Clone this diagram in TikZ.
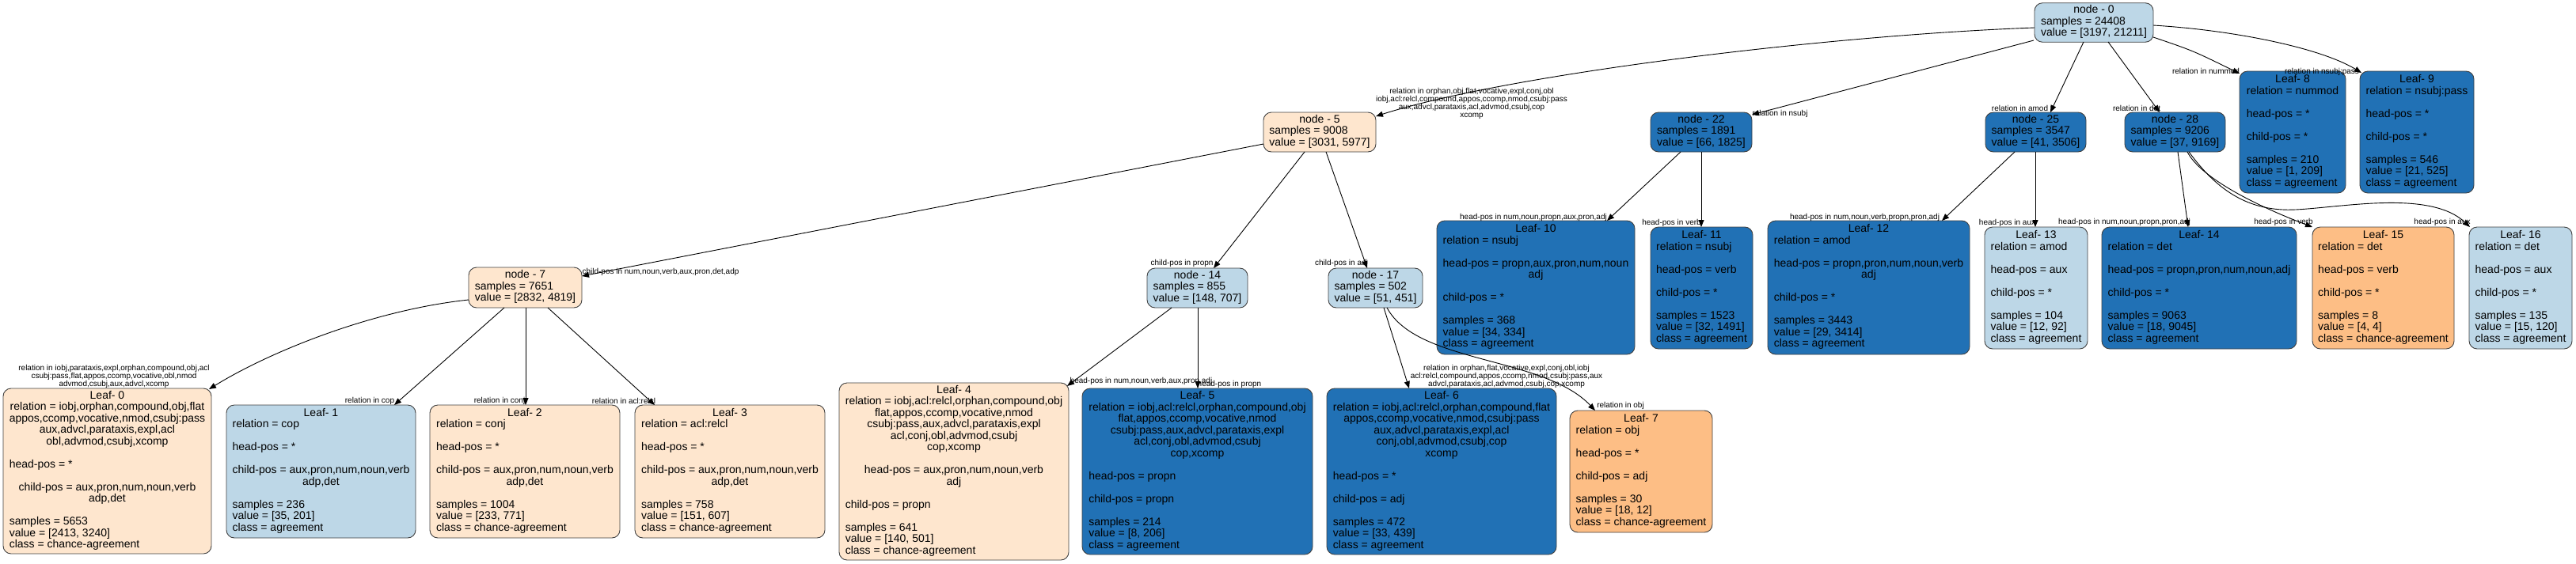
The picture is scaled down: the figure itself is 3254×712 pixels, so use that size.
\documentclass[tikz,border=0pt]{standalone}
\usepackage{fontspec}
\setmainfont{Liberation Sans}
\usetikzlibrary{arrows.meta,calc}
\definecolor{dblue}{HTML}{2171B5}
\definecolor{lblue}{HTML}{BDD7E7}
\definecolor{lorange}{HTML}{FEE6CE}
\definecolor{morange}{HTML}{FDBE85}
\newcommand\cln[1]{\multicolumn{1}{@{}c@{}}{#1}}
\newcommand\ntab[1]{\begin{tabular}{@{}l@{}}#1\end{tabular}}
\tikzset{
  tnode/.style={draw=black!75, line width=0.9pt, rounded corners=10pt, inner xsep=6pt, inner ysep=3pt,
    font=\fontsize{14}{14.5}\selectfont, align=left},
  dk/.style={tnode, fill=dblue},
  lb/.style={tnode, fill=lblue},
  lo/.style={tnode, fill=lorange},
  mo/.style={tnode, fill=morange},
  edge/.style={draw=black, line width=0.9pt, -{Triangle[length=9pt,width=7pt]}},
  elab/.style={font=\fontsize{10}{10}\selectfont, inner sep=0pt, align=center}
}
\begin{document}
\begin{tikzpicture}[x=1pt,y=-1pt]
\fill[white] (0,0) rectangle (3254,712);
\useasboundingbox (0,0) rectangle (3254,712);

% rank 1
\node[lb,minimum width=150pt,minimum height=49pt] (n0) at (2645,28.5) {\ntab{\cln{node - 0}\\samples = 24408\\value = [3197, 21211]}};

% rank 2
\node[lo,minimum width=142pt,minimum height=50pt] (n5) at (1667,167) {\ntab{\cln{node - 5}\\samples = 9008\\value = [3031, 5977]}};
\node[dk,minimum width=128pt,minimum height=50pt] (n22) at (2149,167) {\ntab{\cln{node - 22}\\samples = 1891\\value = [66, 1825]}};
\node[dk,minimum width=127pt,minimum height=50pt] (n25) at (2571.5,167) {\ntab{\cln{node - 25}\\samples = 3547\\value = [41, 3506]}};
\node[dk,minimum width=127pt,minimum height=50pt] (n28) at (2747.5,167) {\ntab{\cln{node - 28}\\samples = 9206\\value = [37, 9169]}};
\node[dk,minimum width=134pt,minimum height=154pt] (L8) at (2896,167) {\ntab{\cln{Leaf- 8}\\relation = nummod\\ \\head-pos = *\\ \\child-pos = *\\ \\samples = 210\\value = [1, 209]\\class = agreement}};
\node[dk,minimum width=144pt,minimum height=154pt] (L9) at (3053,167) {\ntab{\cln{Leaf- 9}\\relation = nsubj:pass\\ \\head-pos = *\\ \\child-pos = *\\ \\samples = 546\\value = [21, 525]\\class = agreement}};

% rank 3
\node[lo,minimum width=143pt,minimum height=51pt] (n7) at (663.5,363.5) {\ntab{\cln{node - 7}\\samples = 7651\\value = [2832, 4819]}};
\node[lb,minimum width=127pt,minimum height=50pt] (n14) at (1512.5,364) {\ntab{\cln{node - 14}\\samples = 855\\value = [148, 707]}};
\node[lb,minimum width=119pt,minimum height=50pt] (n17) at (1737.5,364) {\ntab{\cln{node - 17}\\samples = 502\\value = [51, 451]}};
\node[dk,minimum width=250pt,minimum height=169pt] (L10) at (1940,363.5) {\ntab{\cln{Leaf- 10}\\relation = nsubj\\ \\head-pos = propn,aux,pron,num,noun\\\cln{adj}\\ \\child-pos = *\\ \\samples = 368\\value = [34, 334]\\class = agreement}};
\node[dk,minimum width=129pt,minimum height=154pt] (L11) at (2149.5,364) {\ntab{\cln{Leaf- 11}\\relation = nsubj\\ \\head-pos = verb\\ \\child-pos = *\\ \\samples = 1523\\value = [32, 1491]\\class = agreement}};
\node[dk,minimum width=255pt,minimum height=169pt] (L12) at (2360.5,363.5) {\ntab{\cln{Leaf- 12}\\relation = amod\\ \\head-pos = propn,pron,num,noun,verb\\\cln{adj}\\ \\child-pos = *\\ \\samples = 3443\\value = [29, 3414]\\class = agreement}};
\node[lb,minimum width=130pt,minimum height=154pt] (L13) at (2572,364) {\ntab{\cln{Leaf- 13}\\relation = amod\\ \\head-pos = aux\\ \\child-pos = *\\ \\samples = 104\\value = [12, 92]\\class = agreement}};
\node[dk,minimum width=246pt,minimum height=154pt] (L14) at (2778,364) {\ntab{\cln{Leaf- 14}\\relation = det\\ \\head-pos = propn,pron,num,noun,adj\\ \\child-pos = *\\ \\samples = 9063\\value = [18, 9045]\\class = agreement}};
\node[mo,minimum width=179pt,minimum height=154pt] (L15) at (3010.5,364) {\ntab{\cln{Leaf- 15}\\relation = det\\ \\head-pos = verb\\ \\child-pos = *\\ \\samples = 8\\value = [4, 4]\\class = chance-agreement}};
\node[lb,minimum width=130pt,minimum height=154pt] (L16) at (3184,364) {\ntab{\cln{Leaf- 16}\\relation = det\\ \\head-pos = aux\\ \\child-pos = *\\ \\samples = 135\\value = [15, 120]\\class = agreement}};

% rank 4
\node[lo,minimum width=263pt,minimum height=209pt] (L0) at (135.5,595.5) {\ntab{\cln{Leaf- 0}\\\cln{relation = iobj,orphan,compound,obj,flat}\\\cln{appos,ccomp,vocative,nmod,csubj:pass}\\\cln{aux,advcl,parataxis,expl,acl}\\\cln{obl,advmod,csubj,xcomp}\\ \\head-pos = *\\ \\\cln{child-pos = aux,pron,num,noun,verb}\\\cln{adp,det}\\ \\samples = 5653\\value = [2413, 3240]\\class = chance-agreement}};
\node[lb,minimum width=239pt,minimum height=168pt] (L1) at (405.5,596) {\ntab{\cln{Leaf- 1}\\relation = cop\\ \\head-pos = *\\ \\child-pos = aux,pron,num,noun,verb\\\cln{adp,det}\\ \\samples = 236\\value = [35, 201]\\class = agreement}};
\node[lo,minimum width=240pt,minimum height=168pt] (L2) at (663,596) {\ntab{\cln{Leaf- 2}\\relation = conj\\ \\head-pos = *\\ \\child-pos = aux,pron,num,noun,verb\\\cln{adp,det}\\ \\samples = 1004\\value = [233, 771]\\class = chance-agreement}};
\node[lo,minimum width=240pt,minimum height=168pt] (L3) at (922,596) {\ntab{\cln{Leaf- 3}\\relation = acl:relcl\\ \\head-pos = *\\ \\child-pos = aux,pron,num,noun,verb\\\cln{adp,det}\\ \\samples = 758\\value = [151, 607]\\class = chance-agreement}};
\node[lo,minimum width=290pt,minimum height=224pt] (L4) at (1205,596) {\ntab{\cln{Leaf- 4}\\relation = iobj,acl:relcl,orphan,compound,obj\\\cln{flat,appos,ccomp,vocative,nmod}\\\cln{csubj:pass,aux,advcl,parataxis,expl}\\\cln{acl,conj,obl,advmod,csubj}\\\cln{cop,xcomp}\\ \\\cln{head-pos = aux,pron,num,noun,verb}\\\cln{adj}\\ \\child-pos = propn\\ \\samples = 641\\value = [140, 501]\\class = chance-agreement}};
\node[dk,minimum width=291pt,minimum height=210pt] (L5) at (1512.5,596) {\ntab{\cln{Leaf- 5}\\relation = iobj,acl:relcl,orphan,compound,obj\\\cln{flat,appos,ccomp,vocative,nmod}\\\cln{csubj:pass,aux,advcl,parataxis,expl}\\\cln{acl,conj,obl,advmod,csubj}\\\cln{cop,xcomp}\\ \\head-pos = propn\\ \\child-pos = propn\\ \\samples = 214\\value = [8, 206]\\class = agreement}};
\node[dk,minimum width=290pt,minimum height=210pt] (L6) at (1821,596) {\ntab{\cln{Leaf- 6}\\relation = iobj,acl:relcl,orphan,compound,flat\\\cln{appos,ccomp,vocative,nmod,csubj:pass}\\\cln{aux,advcl,parataxis,expl,acl}\\\cln{conj,obl,advmod,csubj,cop}\\\cln{xcomp}\\ \\head-pos = *\\ \\child-pos = adj\\ \\samples = 472\\value = [33, 439]\\class = agreement}};
\node[mo,minimum width=180pt,minimum height=154pt] (L7) at (2073,596) {\ntab{\cln{Leaf- 7}\\relation = obj\\ \\head-pos = *\\ \\child-pos = adj\\ \\samples = 30\\value = [18, 12]\\class = chance-agreement}};

% edges
\draw[edge] ($(n0)+(-75,6.5)$) .. controls (2300,45) and (1900,95) .. ($(n5)+(71,-20)$);
\draw[edge] ($(n0)+(-76,22.5)$) -- ($(n22)+(64,-22)$);
\draw[edge] ($(n0)+(-13,24.5)$) -- ($(n25)+(18.5,-25)$);
\draw[edge] ($(n0)+(18,24.5)$) -- ($(n28)+(-19.5,-25)$);
\draw[edge] ($(n0)+(75,18.5)$) .. controls (2770,64) .. ($(L8)+(-67,-74)$);
\draw[edge] ($(n0)+(75,3.5)$) .. controls (2820,38) and (2930,60) .. ($(L9)+(-70,-75)$);

\draw[edge] ($(n5)+(-71,15)$) -- ($(n7)+(71.5,-14.5)$);
\draw[edge] ($(n5)+(-19,25)$) -- ($(n14)+(20.5,-25)$);
\draw[edge] ($(n5)+(8,25)$) -- ($(n17)+(-10.5,-25)$);

\draw[edge] ($(n22)+(-26,25)$) -- ($(L10)+(90,-84.5)$);
\draw[edge] ($(n22)+(0,25)$) -- ($(L11)+(-0.5,-77)$);
\draw[edge] ($(n25)+(-26.5,25)$) -- ($(L12)+(92.5,-84.5)$);
\draw[edge] ($(n25)+(-0.5,25)$) -- ($(L13)+(-1,-77)$);
\draw[edge] ($(n28)+(3.5,25)$) -- ($(L14)+(-14,-77)$);
\draw[edge] ($(n28)+(15.5,25)$) .. controls (2780,225) and (2850,260) .. ($(L15)+(-89.5,-77)$);
\draw[edge] ($(n28)+(17.5,25)$) .. controls (2800,240) and (2840,268) .. (2900,265) .. controls (2960,262) and (3070,240) .. ($(L16)+(-64,-77)$);

\draw[edge] ($(n7)+(-71.5,15.5)$) .. controls (470,392) and (340,445) .. ($(L0)+(128.5,-103.5)$);
\draw[edge] ($(n7)+(-26.5,25.5)$) -- ($(L1)+(92.5,-84)$);
\draw[edge] ($(n7)+(0.5,25.5)$) -- ($(L2)+(1,-84)$);
\draw[edge] ($(n7)+(28.5,25.5)$) -- ($(L3)+(-95,-84)$);

\draw[edge] ($(n14)+(-32.5,25)$) -- ($(L4)+(143,-108)$);
\draw[edge] ($(n14)+(0.5,25)$) -- ($(L5)+(0.5,-105)$);
\draw[edge] ($(n17)+(10.5,25)$) -- ($(L6)+(-41,-105)$);
\draw[edge] ($(n17)+(14.5,25)$) .. controls (1790,460) and (1950,450) .. ($(L7)+(-58,-77)$);

% edge labels
\node[elab] (l05) at (1859,131) {relation in orphan,obj,flat,vocative,expl,conj,obl\\iobj,acl:relcl,compound,appos,ccomp,nmod,csubj:pass\\aux,advcl,parataxis,acl,advmod,csubj,cop\\xcomp};
\node[elab] (l022) at (2248.5,144) {relation in nsubj};
\node[elab] (l025) at (2551.5,137) {relation in amod};
\node[elab] (l028) at (2699,137) {relation in det};
\node[elab] (l0L8) at (2786.5,90) {relation in nummod};
\node[elab] (l0L9) at (2933,91) {relation in nsubj:pass};
\node[elab] (l57) at (834.5,344) {child-pos in num,noun,verb,aux,pron,det,adp};
\node[elab] (l514) at (1493,333) {child-pos in propn};
\node[elab] (l517) at (1694.5,333) {child-pos in adj};
\node[elab] (l22a) at (1937,275) {head-pos in num,noun,propn,aux,pron,adj};
\node[elab] (l22b) at (2111.5,282) {head-pos in verb};
\node[elab] (l25a) at (2355.5,275) {head-pos in num,noun,verb,propn,pron,adj};
\node[elab] (l25b) at (2535.5,282) {head-pos in aux};
\node[elab] (l28a) at (2683.5,281) {head-pos in num,noun,propn,pron,adj};
\node[elab] (l28b) at (2884.5,281) {head-pos in verb};
\node[elab] (l28c) at (3085,281) {head-pos in aux};
\node[elab] (l7a) at (144,476) {relation in iobj,parataxis,expl,orphan,compound,obj,acl\\csubj:pass,flat,appos,ccomp,vocative,obl,nmod\\advmod,csubj,aux,advcl,xcomp};
\node[elab] (l7b) at (467,507) {relation in cop};
\node[elab] (l7c) at (631,507) {relation in conj};
\node[elab] (l7d) at (788,507) {relation in acl:relcl};
\node[elab] (l14a) at (1441.5,482) {head-pos in num,noun,verb,aux,pron,adj};
\node[elab] (l14b) at (1553,486) {head-pos in propn};
\node[elab] (l17a) at (1903,475.5) {relation in orphan,flat,vocative,expl,conj,obl,iobj\\acl:relcl,compound,appos,ccomp,nmod,csubj:pass,aux\\advcl,parataxis,acl,advmod,csubj,cop,xcomp};
\node[elab] (l17b) at (2047,513) {relation in obj};
\end{tikzpicture}
\end{document}
